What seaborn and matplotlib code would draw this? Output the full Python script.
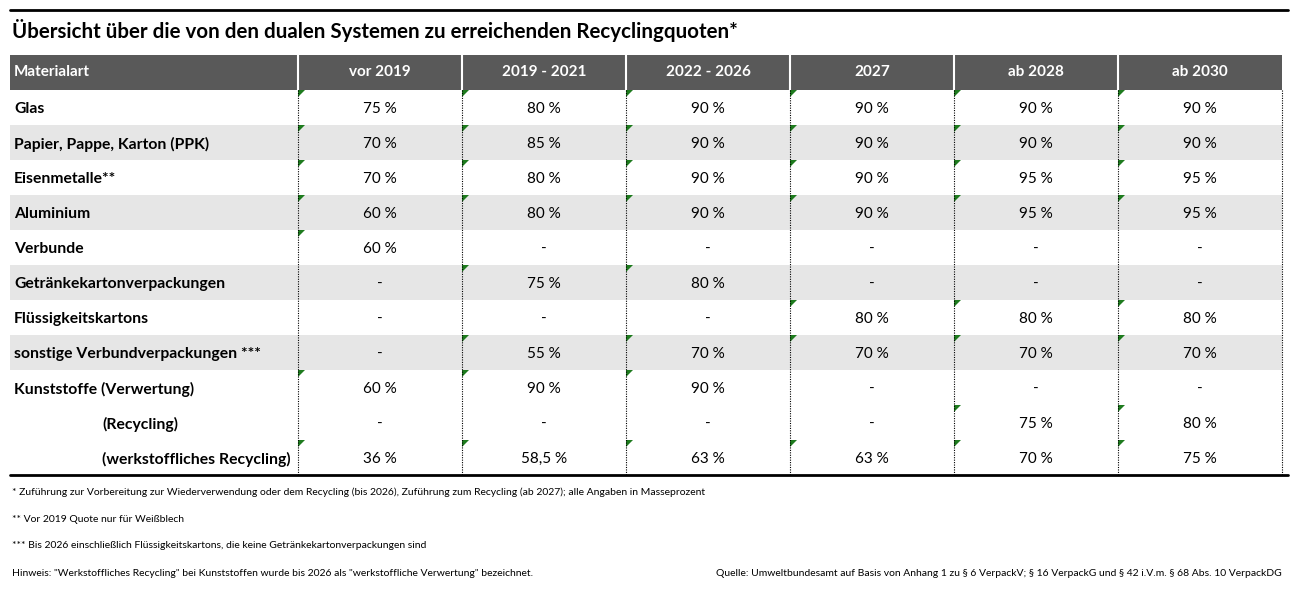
import matplotlib
matplotlib.use("Agg")
import matplotlib.pyplot as plt
from matplotlib.colors import ListedColormap
from matplotlib.lines import Line2D
from matplotlib.patches import Polygon
import numpy as np
import pandas as pd
import seaborn as sns

# ── Data ─────────────────────────────────────────────────────────────────────
title = "Übersicht über die von den dualen Systemen zu erreichenden Recyclingquoten*"
name_header = "Materialart"
periods = ["vor 2019", "2019 - 2021", "2022 - 2026", "2027", "ab 2028", "ab 2030"]
materials = [
    "Glas",
    "Papier, Pappe, Karton (PPK)",
    "Eisenmetalle**",
    "Aluminium",
    "Verbunde",
    "Getränkekartonverpackungen",
    "Flüssigkeitskartons",
    "sonstige Verbundverpackungen ***",
    "Kunststoffe (Verwertung)",
    "(Recycling)",
    "(werkstoffliches Recycling)",
]
indented = [False] * 9 + [True, True]

vor_2019 = [75, 70, 70, 60, 60, None, None, None, 60, None, 36]
q_2019_2021 = [80, 85, 80, 80, None, 75, None, 55, 90, None, 58.5]
q_2022_2026 = [90, 90, 90, 90, None, 80, None, 70, 90, None, 63]
q_2027 = [90, 90, 90, 90, None, None, 80, 70, None, None, 63]
q_2028 = [90, 90, 95, 95, None, None, 80, 70, None, 75, 70]
q_2030 = [90, 90, 95, 95, None, None, 80, 70, None, 80, 75]

footnotes = [
    "* Zuführung zur Vorbereitung zur Wiederverwendung oder dem Recycling (bis 2026), "
    "Zuführung zum Recycling (ab 2027); alle Angaben in Masseprozent",
    "** Vor 2019 Quote nur für Weißblech",
    "*** Bis 2026 einschließlich Flüssigkeitskartons, die keine Getränkekartonverpackungen sind",
    'Hinweis: "Werkstoffliches Recycling" bei Kunststoffen wurde bis 2026 als '
    '"werkstoffliche Verwertung" bezeichnet.',
]
source = ("Quelle: Umweltbundesamt auf Basis von Anhang 1 zu § 6 VerpackV; "
          "§ 16 VerpackG und § 42 i.V.m. § 68 Abs. 10 VerpackDG")

# ── Style ────────────────────────────────────────────────────────────────────
sns.set_theme(style="white")
plt.rcParams["font.family"] = ["Lato", "DejaVu Sans"]

HEADER_GREY = "#595959"
STRIPE_GREY = "#e6e6e6"
GREEN = "#1e7b1e"

W, H = 1290, 592
fig = plt.figure(figsize=(W / 100, H / 100), dpi=100)
fig.patch.set_facecolor("white")


def fx(px):
    return px / W


def fy(px):
    return 1 - px / H


# table geometry in pixels
left, name_w, col_w = 10, 288, 164
top, row_h = 55, 35
n_rows = len(materials) + 1
bottom = top + n_rows * row_h
text_drop = 0.05  # text sits slightly below row centre, as in the Excel source

# ── Table ────────────────────────────────────────────────────────────────────
values = pd.DataFrame(
    dict(zip(periods, [vor_2019, q_2019_2021, q_2022_2026, q_2027, q_2028, q_2030])),
    index=materials,
)


def fmt(v):
    if v is None or pd.isna(v):
        return "-"
    s = f"{v:g}".replace(".", ",")
    return f"{s} %"


labels = [periods] + [[fmt(v) for v in row] for row in values.itertuples(index=False)]
labels = np.array(labels, dtype=object)

# 2 = header, 1 = stripe, 0 = white
stripe = [2] + [1 if i % 2 == 1 and i < 8 else 0 for i in range(len(materials))]
shade_vals = np.repeat(np.array(stripe)[:, None], len(periods), axis=1)
cmap = ListedColormap(["white", STRIPE_GREY, HEADER_GREY])

# name column
ax_n = fig.add_axes([fx(left), fy(bottom), fx(name_w), (n_rows * row_h) / H])
sns.heatmap(np.array(stripe)[:, None], cmap=cmap, vmin=-0.5, vmax=2.5, cbar=False,
            xticklabels=False, yticklabels=False, ax=ax_n)
ax_n.text(4 / name_w, 0.5, name_header, ha="left", va="center", color="white",
          fontsize=11, fontweight="bold")
for i, (name, ind) in enumerate(zip(materials, indented)):
    x0 = (92 if ind else 4) / name_w
    ax_n.text(x0, i + 1.5 + text_drop, name, ha="left", va="center", color="black",
              fontsize=11.3, fontweight="bold")

# value columns
ax_v = fig.add_axes([fx(left + name_w), fy(bottom), fx(col_w * len(periods)),
                     (n_rows * row_h) / H])
sns.heatmap(shade_vals, cmap=cmap, vmin=-0.5, vmax=2.5, cbar=False,
            annot=labels, fmt="", annot_kws={"fontsize": 11},
            xticklabels=False, yticklabels=False, ax=ax_v)
for t in ax_v.texts:
    x, y = t.get_position()
    if y < 1:
        t.set_fontweight("bold")
        t.set_color("white")
    else:
        t.set_color("black")
        t.set_position((x, y + text_drop))

# header separators and dotted body gridlines
ax_v.vlines(range(len(periods)), 0, 1, colors="white", lw=1.5, clip_on=False)
ax_v.vlines(range(len(periods) + 1), 1, n_rows, colors="black", lw=0.8,
            linestyles=(0, (1, 1.2)), clip_on=False)

# green "number stored as text" corner markers
dx, dy = 7 / col_w, 7 / row_h
for j, col in enumerate(periods):
    for i, v in enumerate(values[col]):
        if v is None or pd.isna(v):
            continue
        r = i + 1
        ax_v.add_patch(Polygon([(j, r), (j + dx, r), (j, r + dy)], closed=True,
                               facecolor=GREEN, edgecolor="none", clip_on=False))

for a in (ax_n, ax_v):
    a.set(xlabel="", ylabel="")

# ── Title, rules, notes ──────────────────────────────────────────────────────
fig.add_artist(Line2D([fx(10), fx(1288)], [fy(10), fy(10)], color="black", lw=2))
fig.add_artist(Line2D([fx(10), fx(1288)], [fy(bottom), fy(bottom)], color="black", lw=2))
fig.text(fx(12), fy(30), title, ha="left", va="center", fontsize=14.8,
         fontweight="bold", color="black")

for k, note in enumerate(footnotes):
    fig.text(fx(12), fy(492 + 27 * k), note, ha="left", va="center",
             fontsize=7.5, color="black")
fig.text(fx(1282), fy(573), source, ha="right", va="center", fontsize=7.5,
         color="black")

fig.savefig("out.png", dpi=100)
